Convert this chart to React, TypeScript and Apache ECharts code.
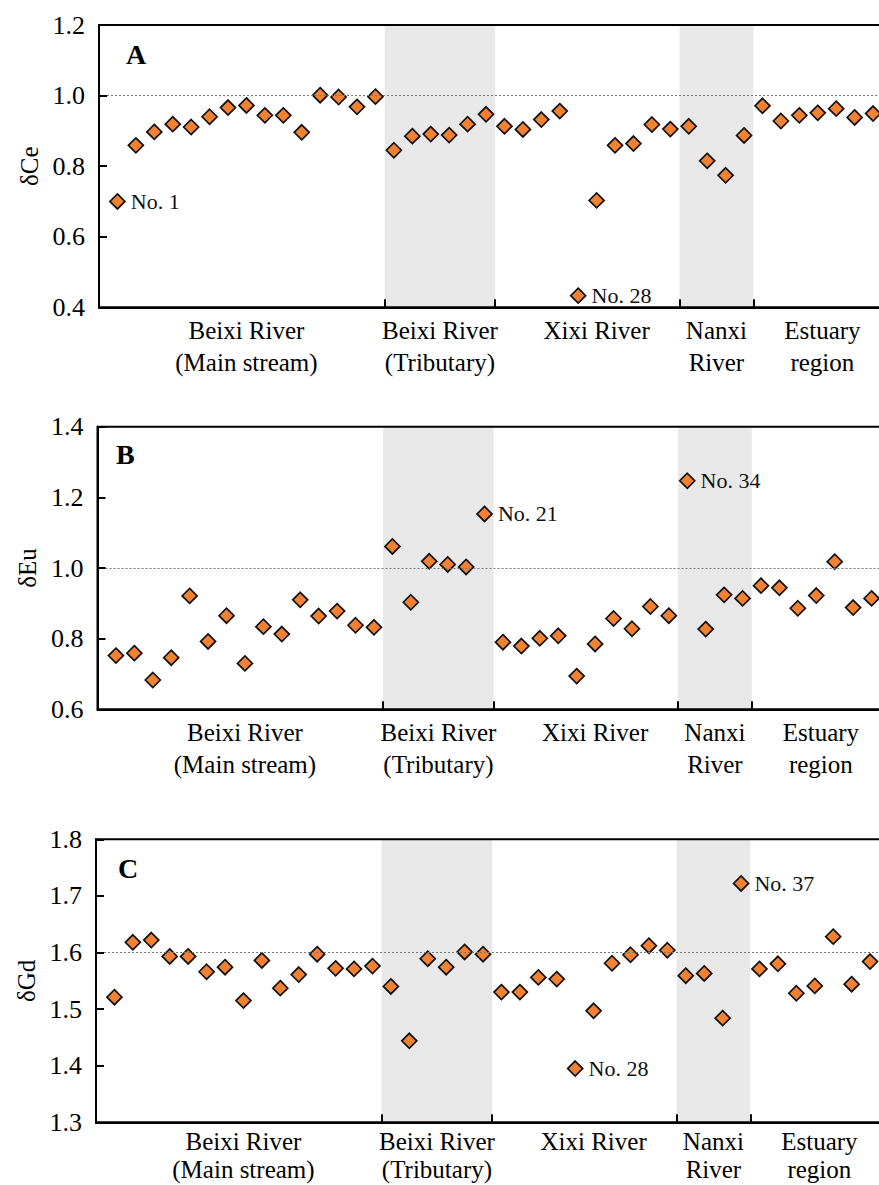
import React, { useEffect, useRef } from 'react';
import * as echarts from 'echarts';

// sample positions along the x axis (1..42)
const positions = [
  1, 2, 3, 4, 5, 6, 7, 8, 9, 10, 11, 12, 13, 14, 15, 16, 17, 18, 19, 20, 21,
  22, 23, 24, 25, 26, 27, 28, 29, 30, 31, 32, 33, 34, 35, 36, 37, 38, 39, 40, 41, 42,
];

const ceValues = [
  0.700, 0.859, 0.897, 0.919, 0.911, 0.940, 0.966, 0.972, 0.944, 0.944, 0.896,
  1.001, 0.996, 0.968, 0.997, 0.845, 0.885, 0.891, 0.888, 0.919, 0.947,
  0.913, 0.904, 0.932, 0.956, 0.433, 0.703, 0.859, 0.864, 0.918, 0.905,
  0.913, 0.815, 0.774, 0.887, 0.971, 0.928, 0.944, 0.951, 0.963, 0.938, 0.949,
];

const euValues = [
  0.752, 0.759, 0.683, 0.746, 0.921, 0.792, 0.865, 0.730, 0.834, 0.813, 0.910,
  0.864, 0.878, 0.838, 0.832, 1.061, 0.903, 1.019, 1.010, 1.003, 1.153,
  0.790, 0.779, 0.801, 0.808, 0.694, 0.785, 0.857, 0.828, 0.891, 0.865,
  1.247, 0.827, 0.924, 0.914, 0.950, 0.944, 0.886, 0.922, 1.018, 0.888, 0.914,
];

const gdValues = [
  1.521, 1.618, 1.622, 1.593, 1.593, 1.566, 1.574, 1.515, 1.586, 1.537, 1.561,
  1.597, 1.572, 1.571, 1.576, 1.540, 1.444, 1.589, 1.574, 1.601, 1.597,
  1.530, 1.530, 1.556, 1.553, 1.395, 1.497, 1.581, 1.596, 1.612, 1.604,
  1.559, 1.563, 1.484, 1.722, 1.571, 1.580, 1.528, 1.541, 1.628, 1.544, 1.584,
];

// annotated samples: [position, text]
const annotA: [number, string][] = [[1, 'No. 1'], [26, 'No. 28']];
const annotB: [number, string][] = [[21, 'No. 21'], [32, 'No. 34']];
const annotC: [number, string][] = [[26, 'No. 28'], [35, 'No. 37']];

const groupNames = [
  'Beixi River\n(Main stream)',
  'Beixi River\n(Tributary)',
  'Xixi River',
  'Nanxi\nRiver',
  'Estuary\nregion',
];
const groupCenters = [8, 18.5, 27, 33.5, 39.25];
const groupBounds = [15.5, 21.5, 31.5, 35.5];
const shadedRanges: [number, number][] = [[15.5, 21.5], [31.5, 35.5]];

const yNames = ['δCe', 'δEu', 'δGd'];
const yMins = [0.4, 0.6, 1.3];
const yMaxs = [1.2, 1.4, 1.8];
const yIntervals = [0.2, 0.2, 0.1];
const refLines = [1.0, 1.0, 1.6];
const panelLetters = ['A', 'B', 'C'];

const FONT = "'Liberation Serif', 'Times New Roman', serif";
const ORANGE = '#F28232';

export default function App() {
  const ref = useRef<HTMLDivElement>(null);

  useEffect(() => {
    document.body.style.margin = '0';
    if (!ref.current) return;
    const chart = echarts.init(ref.current, undefined, { renderer: 'svg' });

    const gridDefs = [
      { left: 99, top: 25, height: 282.3, labelMargin: 7, labelLine: 32 },
      { left: 97.5, top: 426.7, height: 282.6, labelMargin: 7, labelLine: 32 },
      { left: 96, top: 839.3, height: 283, labelMargin: 5, labelLine: 28 },
    ];
    const unit = 18.43;
    const xMax = 43;

    const valuesList = [ceValues, euValues, gdValues];
    const annots = [annotA, annotB, annotC];

    const grids = gridDefs.map((g) => ({
      left: g.left,
      top: g.top,
      width: unit * xMax,
      height: g.height,
      outerBoundsMode: 'none',
      containLabel: false,
      show: true,
      borderColor: '#000',
      borderWidth: 2,
      backgroundColor: 'transparent',
      z: 10,
    }));

    const xAxes = gridDefs.map((g, i) => ({
      type: 'value',
      gridIndex: i,
      min: 0,
      max: xMax,
      z: 10,
      axisLine: { show: true, lineStyle: { color: '#000', width: 2 } },
      axisTick: {
        show: true,
        inside: true,
        length: 8,
        customValues: groupBounds,
        lineStyle: { color: '#000', width: 2 },
      },
      axisLabel: {
        show: true,
        customValues: groupCenters,
        margin: g.labelMargin,
        color: '#000',
        fontFamily: FONT,
        fontSize: 25,
        lineHeight: g.labelLine,
        align: 'center',
        verticalAlign: 'top',
        formatter: (v: number) => {
          const k = groupCenters.findIndex((c) => Math.abs(c - v) < 1e-6);
          return k >= 0 ? groupNames[k] : '';
        },
      },
      splitLine: { show: false },
    }));

    const yAxes = gridDefs.map((_, i) => ({
      type: 'value',
      gridIndex: i,
      min: yMins[i],
      max: yMaxs[i],
      interval: yIntervals[i],
      z: 10,
      name: yNames[i],
      nameLocation: 'middle',
      nameGap: 57,
      nameRotate: 90,
      nameTextStyle: { color: '#000', fontFamily: FONT, fontSize: 25 },
      axisLine: { show: true, lineStyle: { color: '#000', width: 2 } },
      axisTick: { show: true, inside: true, length: 8, lineStyle: { color: '#000', width: 2 } },
      axisLabel: {
        show: true,
        margin: 14,
        color: '#000',
        fontFamily: FONT,
        fontSize: 26,
        showMinLabel: true,
        showMaxLabel: true,
        formatter: (v: number) => v.toFixed(1),
      },
      splitLine: { show: false },
    }));

    const series = valuesList.map((vals, i) => {
      const notes = annots[i];
      return {
        type: 'scatter',
        xAxisIndex: i,
        yAxisIndex: i,
        symbol: 'diamond',
        symbolSize: 15,
        itemStyle: { color: ORANGE, borderColor: '#111', borderWidth: 1.7, opacity: 1 },
        data: vals.map((v, k) => {
          const note = notes.find((n) => n[0] === positions[k]);
          const item: any = { value: [positions[k], v] };
          if (note) {
            item.label = {
              show: true,
              position: 'right',
              distance: 5,
              formatter: note[1],
              color: '#111',
              fontFamily: FONT,
              fontSize: 22,
            };
          }
          return item;
        }),
        markArea: {
          silent: true,
          itemStyle: { color: '#E8E8E8' },
          data: shadedRanges.map((r) => [{ xAxis: r[0] }, { xAxis: r[1] }]),
        },
        markLine: {
          silent: true,
          symbol: ['none', 'none'],
          label: { show: false },
          lineStyle: { color: '#777', width: 1, type: [2, 2] },
          data: [{ yAxis: refLines[i] }],
        },
      };
    });

    const letterPos = [
      { x: 126, y: 40 },
      { x: 116, y: 440 },
      { x: 118, y: 854 },
    ];

    chart.setOption({
      animation: false,
      backgroundColor: '#fff',
      grid: grids,
      xAxis: xAxes,
      yAxis: yAxes,
      series,
      graphic: letterPos.map((p, i) => ({
        type: 'text',
        x: p.x,
        y: p.y,
        z: 20,
        style: {
          text: panelLetters[i],
          fill: '#000',
          fontFamily: FONT,
          fontWeight: 'bold',
          fontSize: 28,
          verticalAlign: 'top',
        },
      })),
    });

    return () => {
      chart.dispose();
    };
  }, []);

  return <div ref={ref} style={{ width: 879, height: 1185 }} />;
}
